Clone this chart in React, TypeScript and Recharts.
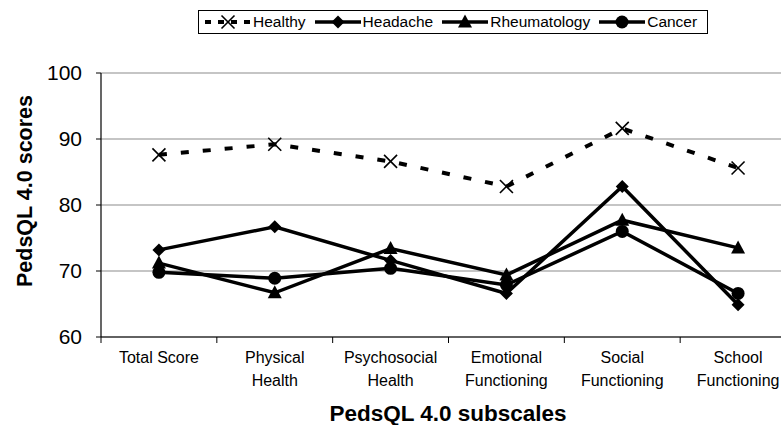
import { LineChart, Line, XAxis, YAxis, CartesianGrid } from "recharts";

const subscales = [
  ["Total Score"],
  ["Physical", "Health"],
  ["Psychosocial", "Health"],
  ["Emotional", "Functioning"],
  ["Social", "Functioning"],
  ["School", "Functioning"],
];
const healthy = [87.6, 89.2, 86.6, 82.8, 91.6, 85.6];
const headache = [73.2, 76.7, 71.6, 66.6, 82.8, 64.9];
const rheumatology = [71.2, 66.7, 73.4, 69.4, 77.7, 73.5];
const cancer = [69.8, 68.9, 70.4, 67.9, 76.0, 66.6];
const yTicks = [60, 70, 80, 90, 100];

const data = subscales.map((label, i) => ({
  pos: i + 0.5,
  label,
  healthy: healthy[i],
  headache: headache[i],
  rheumatology: rheumatology[i],
  cancer: cancer[i],
}));

// ticks at band edges (integers) and labels at band centres (halves)
const xTicks = Array.from({ length: subscales.length * 2 + 1 }, (_, i) => i / 2);

const FONT = "'Liberation Sans', Arial, sans-serif";

function Cross({ cx, cy }: any) {
  const s = 6.5;
  return (
    <g stroke="#000" strokeWidth={1.6}>
      <line x1={cx - s} y1={cy - s} x2={cx + s} y2={cy + s} />
      <line x1={cx - s} y1={cy + s} x2={cx + s} y2={cy - s} />
    </g>
  );
}
function Diamond({ cx, cy }: any) {
  const s = 6.5;
  return <polygon points={`${cx},${cy - s} ${cx + s},${cy} ${cx},${cy + s} ${cx - s},${cy}`} fill="#000" />;
}
function Triangle({ cx, cy }: any) {
  return <polygon points={`${cx},${cy - 7.5} ${cx + 7},${cy + 5.5} ${cx - 7},${cy + 5.5}`} fill="#000" />;
}
function Circle({ cx, cy }: any) {
  return <circle cx={cx} cy={cy} r={6.5} fill="#000" />;
}

const series = [
  { key: "healthy", name: "Healthy", Shape: Cross, dash: "8 14", width: 4 },
  { key: "headache", name: "Headache", Shape: Diamond, dash: undefined, width: 3.5 },
  { key: "rheumatology", name: "Rheumatology", Shape: Triangle, dash: undefined, width: 3.5 },
  { key: "cancer", name: "Cancer", Shape: Circle, dash: undefined, width: 3.5 },
];

function XTick(props: any) {
  const { x, y, payload } = props;
  const v = payload.value;
  if (Number.isInteger(v)) {
    return <line x1={x} y1={y} x2={x} y2={y + 6} stroke="#000" strokeWidth={1} />;
  }
  const lines = subscales[Math.floor(v)];
  return (
    <text x={x} y={y} textAnchor="middle" fontFamily={FONT} fontSize={16} fill="#000">
      {lines.map((l, i) => (
        <tspan key={i} x={x} dy={i === 0 ? 26 : 23}>
          {l}
        </tspan>
      ))}
    </text>
  );
}

function Legend() {
  return (
    <div
      style={{
        position: "absolute",
        left: 198,
        top: 10,
        width: 510,
        height: 24,
        border: "1px solid #000",
        background: "#fff",
        display: "flex",
        alignItems: "center",
        paddingLeft: 4,
        boxSizing: "border-box",
        fontFamily: FONT,
        fontSize: 15.5,
        color: "#000",
      }}
    >
      {series.map((s) => (
        <div key={s.key} style={{ display: "flex", alignItems: "center", marginRight: 7 }}>
          <svg width={50} height={22}>
            <line
              x1={2}
              y1={11}
              x2={48}
              y2={11}
              stroke="#000"
              strokeWidth={s.width}
              strokeDasharray={s.dash ? "6 7" : undefined}
            />
            <s.Shape cx={25} cy={11} />
          </svg>
          <span>{s.name}</span>
        </div>
      ))}
    </div>
  );
}

export default function App() {
  return (
    <div
      style={{
        position: "absolute",
        left: 0,
        top: 0,
        width: 781,
        height: 425,
        overflow: "hidden",
        background: "#fff",
      }}
    >
      <LineChart
        width={800}
        height={425}
        data={data}
        margin={{ top: 73, right: 4, bottom: 0, left: 0 }}
        style={{ fontFamily: FONT }}
      >
        <CartesianGrid vertical={false} stroke="#8c8c8c" strokeWidth={1.2} />
        <XAxis
          dataKey="pos"
          type="number"
          domain={[0, subscales.length]}
          ticks={xTicks}
          interval={0}
          tickLine={false}
          tickSize={0}
          tickMargin={0}
          tick={<XTick />}
          height={88}
          axisLine={{ stroke: "#000", strokeWidth: 1.2 }}
          label={{
            content: () => (
              <text x={448} y={421} textAnchor="middle" fontFamily={FONT} fontWeight="bold" fontSize={22.5} fill="#000">
                PedsQL 4.0 subscales
              </text>
            ),
          }}
        />
        <YAxis
          domain={[60, 100]}
          ticks={yTicks}
          width={101}
          tickSize={5}
          tickMargin={14}
          tick={{ fill: "#000", fontSize: 21, fontFamily: FONT }}
          tickLine={{ stroke: "#000" }}
          axisLine={{ stroke: "#000", strokeWidth: 1.2 }}
          label={{
            content: () => (
              <text
                x={25}
                y={191}
                transform="rotate(-90 25 191)"
                textAnchor="middle"
                dominantBaseline="central"
                fontFamily={FONT}
                fontWeight="bold"
                fontSize={21.5}
                fill="#000"
              >
                PedsQL 4.0 scores
              </text>
            ),
          }}
        />
        {series.map((s) => (
          <Line
            key={s.key}
            dataKey={s.key}
            name={s.name}
            type="linear"
            stroke="#000"
            strokeWidth={s.width}
            strokeDasharray={s.dash}
            dot={(p: any) => <s.Shape key={`${s.key}-${p.index}`} cx={p.cx} cy={p.cy} />}
            activeDot={false}
            isAnimationActive={false}
          />
        ))}
      </LineChart>
      <Legend />
    </div>
  );
}
